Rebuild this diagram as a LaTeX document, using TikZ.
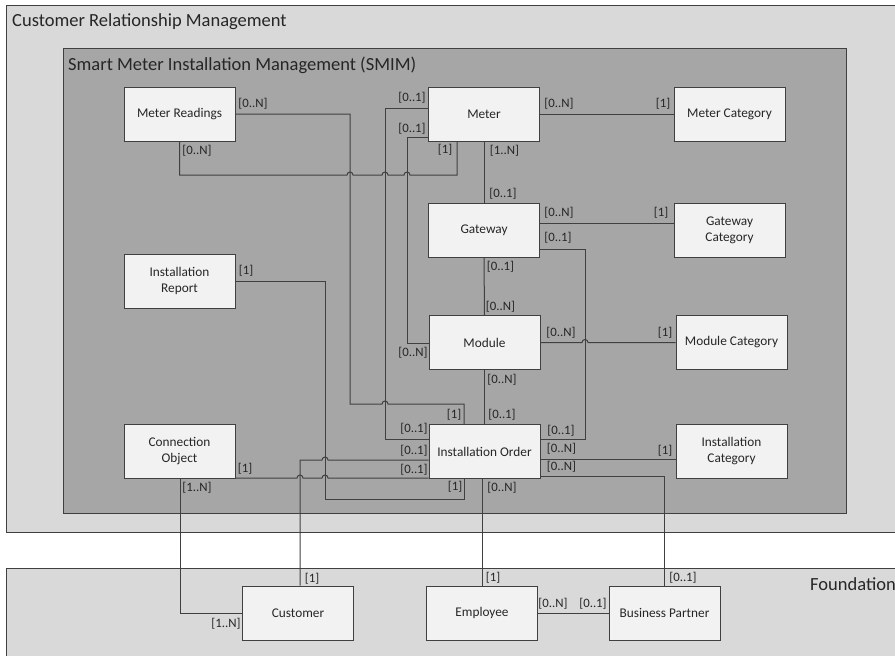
\documentclass[tikz,border=0pt]{standalone}
\usepackage{fontspec}
\setmainfont{Carlito}
\definecolor{crmfill}{HTML}{D9D9D9}
\definecolor{smimfill}{HTML}{A6A6A6}
\definecolor{boxfill}{HTML}{F2F2F2}
\definecolor{linegray}{HTML}{404040}
\definecolor{textgray}{HTML}{262626}
\begin{document}
\begin{tikzpicture}[x=1pt,y=-1pt,
  entity/.style={draw=linegray, fill=boxfill, line width=1pt,
    minimum width=111pt, minimum height=54pt, inner sep=0pt, align=center,
    font=\fontsize{13.3}{16}\selectfont, text=textgray},
  card/.style={font=\fontsize{12.8}{14}\selectfont, text=textgray, inner sep=0pt},
  title/.style={font=\fontsize{18.5}{22}\selectfont, text=textgray, inner sep=0pt, anchor=west},
  area/.style={draw=linegray, line width=1pt},
  link/.style={draw=linegray, line width=1pt},
  hop/.style={radius=3pt}
]
\useasboundingbox (0,0) rectangle (895,656);

% system areas
\path[area, fill=crmfill] (6,5) rectangle (905,532);
\path[area, fill=crmfill] (6,568) rectangle (905,670);
\path[area, fill=smimfill] (63,48) rectangle (846,513);
\node[title] (crmtitle) at (12,22) {Customer Relationship Management};
\node[title] (smimtitle) at (68,65) {Smart Meter Installation Management (SMIM)};
\node[title] (fndtitle) at (810,584) {Foundation};

% entities
\node[entity] (mr) at (179.5,114) {Meter Readings};
\node[entity] (meter) at (484,114.5) {Meter};
\node[entity] (mcat) at (729.5,114.5) {Meter Category};
\node[entity] (gw) at (484,230) {Gateway};
\node[entity] (gcat) at (729.5,230) {Gateway\\Category};
\node[entity] (mod) at (484.5,342.5) {Module};
\node[entity] (modcat) at (731.5,342.5) {Module Category};
\node[entity] (ir) at (179.5,281) {Installation\\Report};
\node[entity] (io) at (484.5,451.5) {Installation Order};
\node[entity] (icat) at (731.5,451.5) {Installation\\Category};
\node[entity] (co) at (179.5,451.5) {Connection\\Object};
\node[entity] (cust) at (298,613) {Customer};
\node[entity] (emp) at (482,613) {Employee};
\node[entity] (bp) at (664.5,613) {Business Partner};

% relations
\draw[link] (mr.east) -- (350,114) -- (350,404) -- (382,404)
  arc[start angle=180, end angle=0, hop] -- (464,404) -- (io.north -| 464,0);
\draw[link] (meter.west |- 0,108) -- (385,108) -- (385,439) -- (io.west |- 0,439);
\draw[link] (meter.west |- 0,137) -- (407,137) -- (407,343) -- (mod.west |- 0,343);
\draw[link] (mr.south) -- (179.5,175) -- (347,175)
  arc[start angle=180, end angle=0, hop] -- (382,175)
  arc[start angle=180, end angle=0, hop] -- (404,175)
  arc[start angle=180, end angle=0, hop] -- (457,175) -- (meter.south -| 457,0);
\draw[link] (meter.south) -- (gw.north);
\draw[link] (meter.east) -- (mcat.west);
\draw[link] (gw.east |- 0,223) -- (gcat.west |- 0,223);
\draw[link] (gw.east |- 0,249) -- (585,249) -- (585,439) -- (io.east |- 0,439);
\draw[link] (gw.south) -- (mod.north);
\draw[link] (mod.east) -- (582,342.5)
  arc[start angle=180, end angle=0, hop] -- (modcat.west);
\draw[link] (mod.south) -- (io.north);
\draw[link] (io.east |- 0,459) -- (icat.west |- 0,459);
\draw[link] (io.east |- 0,476) -- (664.5,476) -- (bp.north);
\draw[link] (io.south -| 482.5,0) -- (emp.north -| 482.5,0);
\draw[link] (io.west |- 0,460) -- (328,460)
  arc[start angle=0, end angle=180, hop] -- (300,460) -- (cust.north -| 300,0);
\draw[link] (co.east |- 0,478) -- (297,478)
  arc[start angle=180, end angle=0, hop] -- (322,478)
  arc[start angle=180, end angle=0, hop] -- (io.west |- 0,478);
\draw[link] (ir.east) -- (325,281) -- (325,499) -- (464,499) -- (io.south -| 464,0);
\draw[link] (co.south -| 180,0) -- (180,613) -- (cust.west);
\draw[link] (emp.east) -- (bp.west);

% cardinalities
\node[card] (c1) at (253,104) {[0..N]};
\node[card] (c2) at (197,151) {[0..N]};
\node[card] (c3) at (412,98) {[0..1]};
\node[card] (c4) at (412,129) {[0..1]};
\node[card] (c5) at (445,150) {[1]};
\node[card] (c6) at (504.5,151) {[1..N]};
\node[card] (c7) at (503,194) {[0..1]};
\node[card] (c8) at (559,104) {[0..N]};
\node[card] (c9) at (663,104) {[1]};
\node[card] (c10) at (559,213) {[0..N]};
\node[card] (c11) at (661,213) {[1]};
\node[card] (c12) at (558,238) {[0..1]};
\node[card] (c13) at (500.5,267) {[0..1]};
\node[card] (c14) at (500.5,307) {[0..N]};
\node[card] (c15) at (561,333) {[0..N]};
\node[card] (c16) at (665,333) {[1]};
\node[card] (c17) at (502,380) {[0..N]};
\node[card] (c18) at (502,415) {[0..1]};
\node[card] (c19) at (454,415) {[1]};
\node[card] (c20) at (413,353) {[0..N]};
\node[card] (c21) at (246,271) {[1]};
\node[card] (c22) at (414,429) {[0..1]};
\node[card] (c23) at (414,451) {[0..1]};
\node[card] (c24) at (414,470) {[0..1]};
\node[card] (c25) at (455,487) {[1]};
\node[card] (c26) at (245,469) {[1]};
\node[card] (c27) at (197,488) {[1..N]};
\node[card] (c28) at (561,431) {[0..1]};
\node[card] (c29) at (561.5,449) {[0..N]};
\node[card] (c30) at (561.5,467) {[0..N]};
\node[card] (c31) at (665,451) {[1]};
\node[card] (c32) at (502,488) {[0..N]};
\node[card] (c33) at (312,579) {[1]};
\node[card] (c34) at (226,624) {[1..N]};
\node[card] (c35) at (493,578) {[1]};
\node[card] (c36) at (683,578) {[0..1]};
\node[card] (c37) at (553,604) {[0..N]};
\node[card] (c38) at (593,604) {[0..1]};
\end{tikzpicture}
\end{document}
